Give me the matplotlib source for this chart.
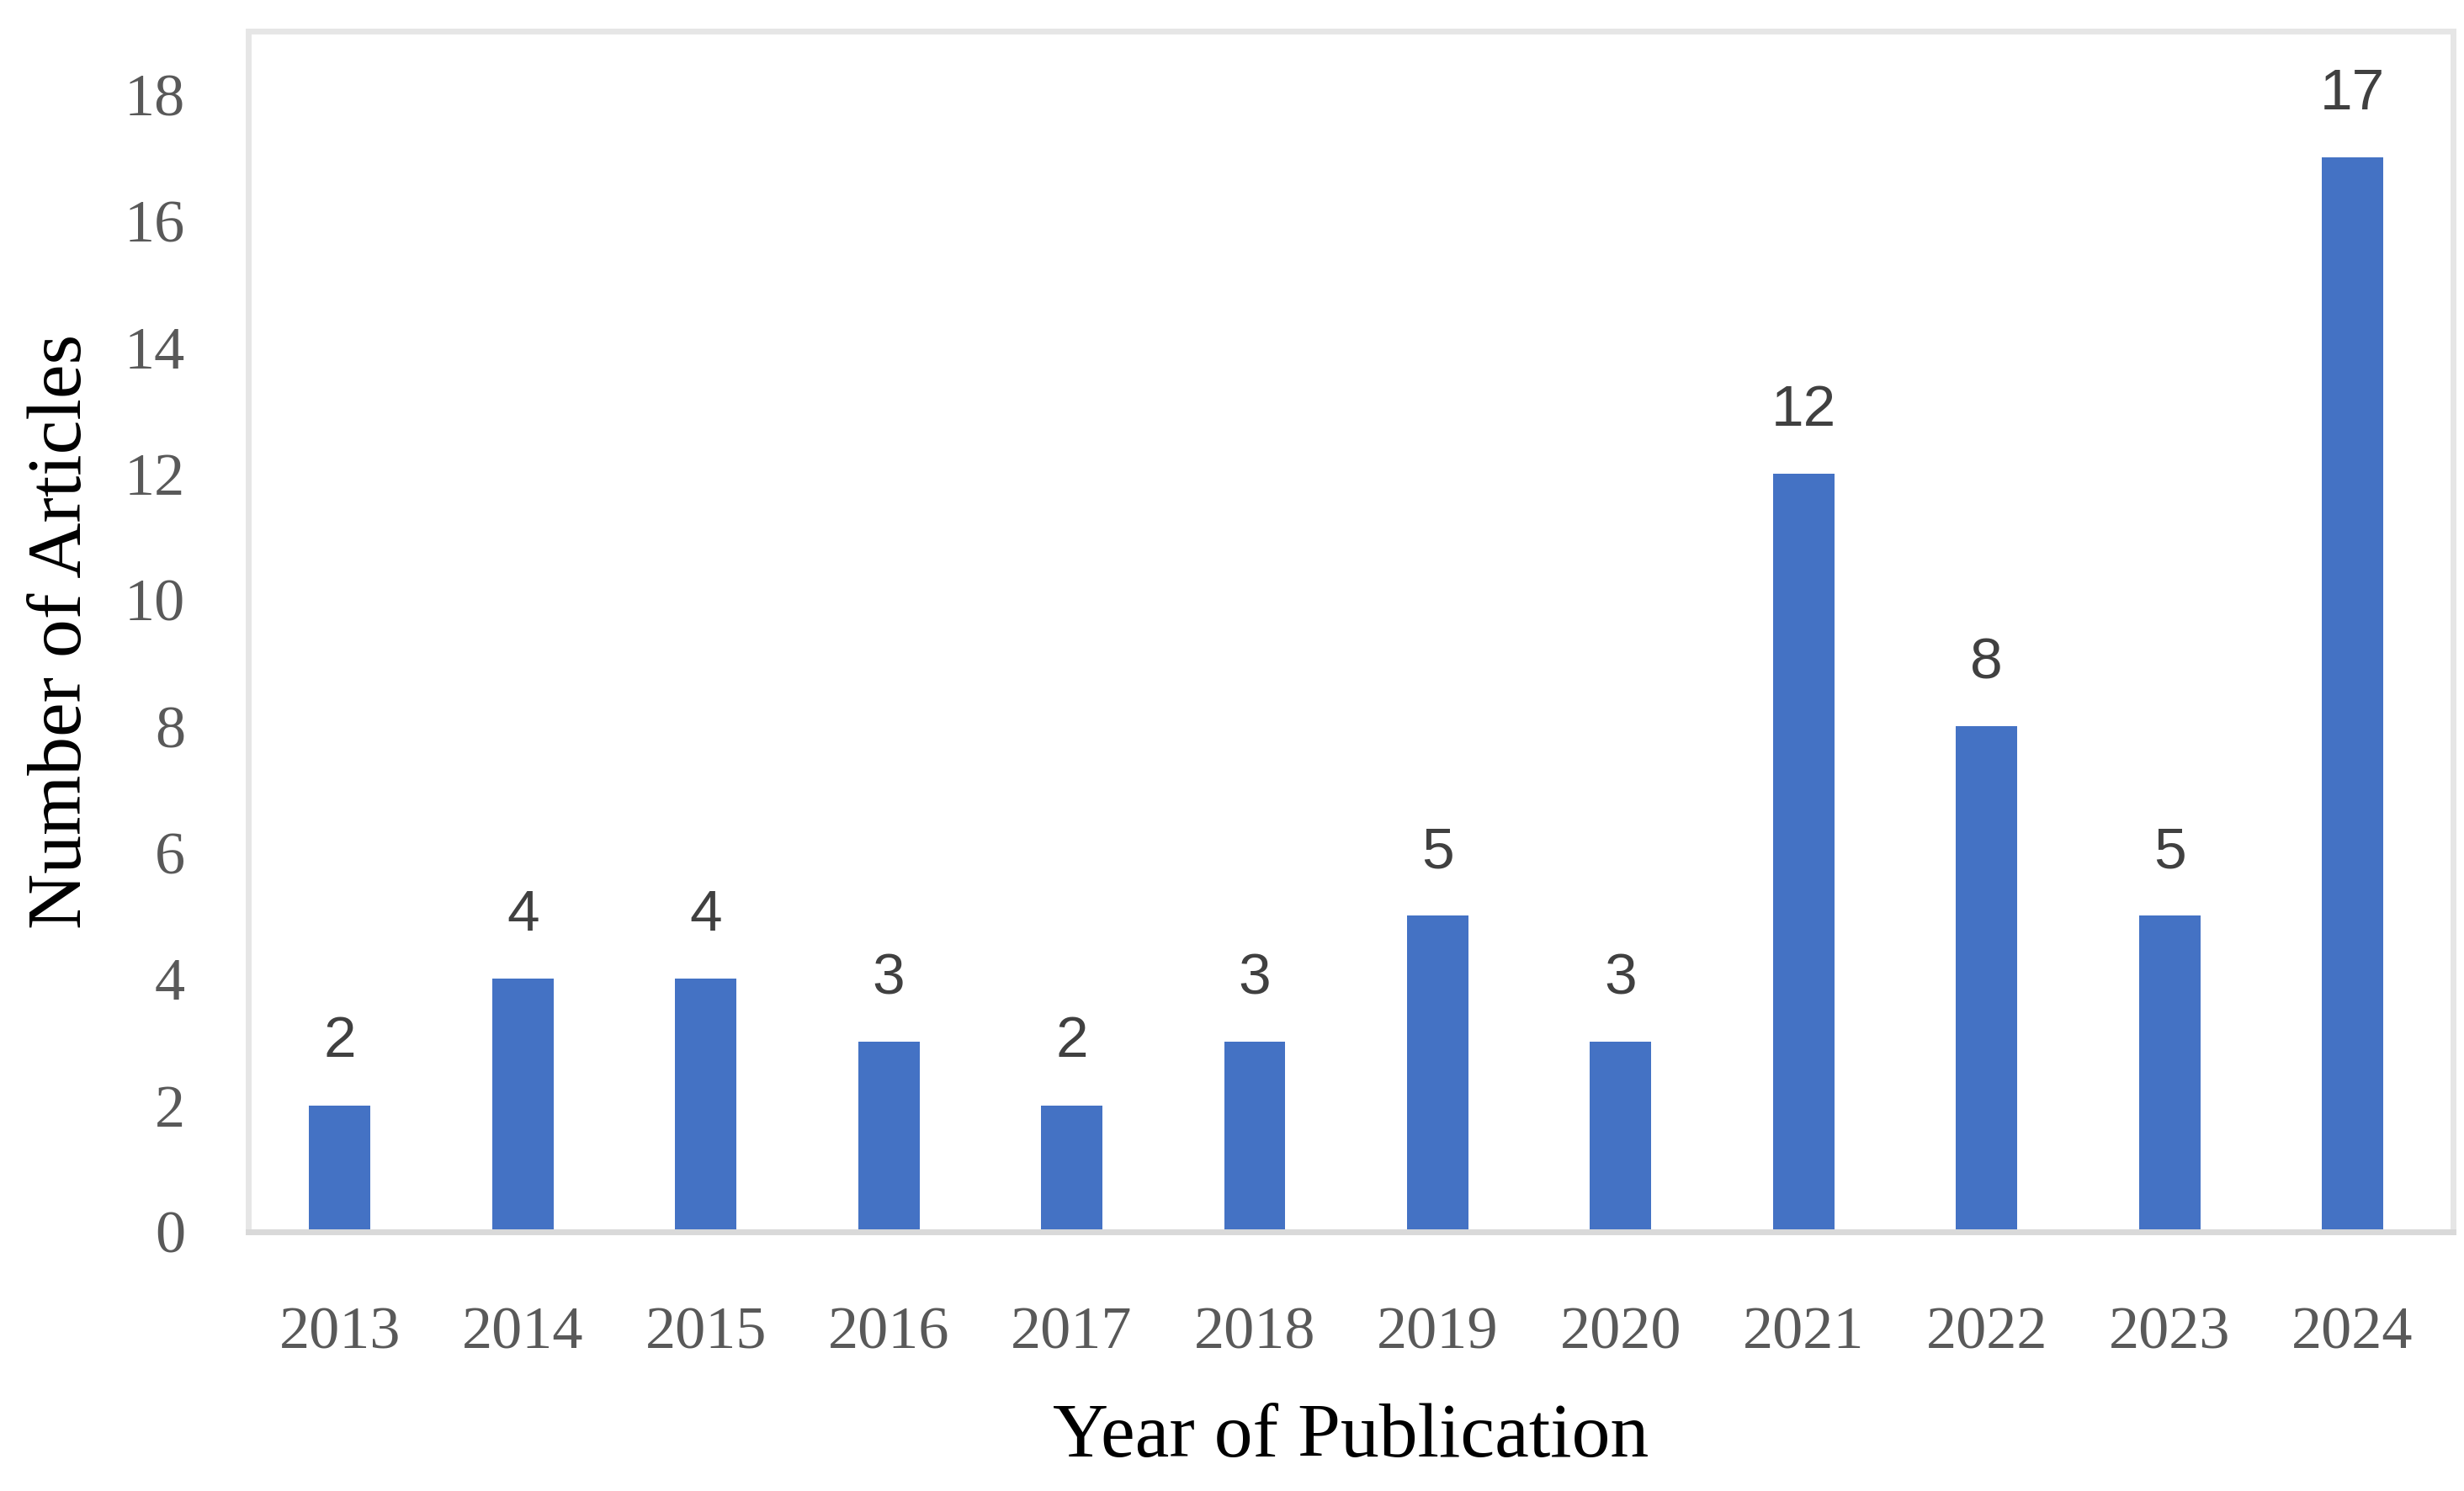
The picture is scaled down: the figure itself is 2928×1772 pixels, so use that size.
import numpy as np
from matplotlib import pyplot as plt

# data
years = ['2013', '2014', '2015', '2016', '2017', '2018',
         '2019', '2020', '2021', '2022', '2023', '2024']
articles = [2, 4, 4, 3, 2, 3, 5, 3, 12, 8, 5, 17]
y_ticks = [0, 2, 4, 6, 8, 10, 12, 14, 16, 18]

serif = ['Liberation Serif', 'DejaVu Serif']
narrow = ['Liberation Sans Narrow', 'Liberation Sans', 'DejaVu Sans']

fig = plt.figure(figsize=(29.28, 17.72), dpi=100)
ax = fig.add_axes([0.1008, 0.174, 0.8948, 0.805])

x = np.arange(len(years))
bars = ax.bar(x, articles, width=0.335, color='#4472C4', zorder=2)

# value labels on top of each bar
for rect, val in zip(bars, articles):
    ax.annotate(str(val), (rect.get_x() + rect.get_width() / 2, rect.get_height()),
                xytext=(0, 31), textcoords='offset points', ha='center', va='bottom',
                fontsize=50, color='#404040', family=narrow)

ax.set_xlim(-0.5, len(years) - 0.45)
ax.set_ylim(0, 19)
ax.set_xticks(x)
ax.set_xticklabels(years, family=serif, fontsize=52, color='#595959')
ax.set_yticks(y_ticks)
ax.set_yticklabels([str(v) for v in y_ticks], family=serif, fontsize=52, color='#595959')
ax.tick_params(axis='both', length=0)
ax.tick_params(axis='x', pad=64)
ax.tick_params(axis='y', pad=54)

# light grey frame like the original
for side in ['top', 'left', 'right']:
    ax.spines[side].set_color('#e6e6e6')
    ax.spines[side].set_linewidth(5)
ax.spines['bottom'].set_color('#d9d9d9')
ax.spines['bottom'].set_linewidth(5)

ax.set_xlabel('Year of Publication', family=serif, fontsize=66, color='black', labelpad=36)
ax.set_ylabel('Number of Articles', family=serif, fontsize=66, color='black', labelpad=24)

fig.savefig('out.png', dpi=100, facecolor='white')
